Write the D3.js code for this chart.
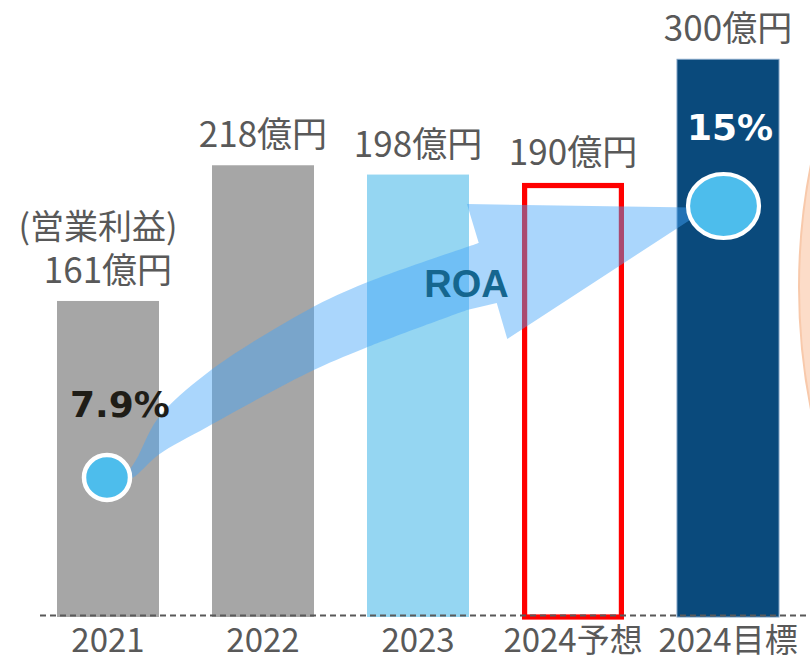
<!DOCTYPE html>
<html>
<head>
<meta charset="utf-8">
<script src="https://cdn.jsdelivr.net/npm/d3@7"></script>
<style>
  body { margin: 0; background: #fff; }
  svg { display: block; }
</style>
</head>
<body>
<script>
// categories and values
const years = ['2021', '2022', '2023', '2024予想', '2024目標'];
const profitLabels = ['161億円', '218億円', '198億円', '190億円', '300億円'];
// bar heights as drawn (億円 on the picture's own scale, not strictly proportional)
const barLevels = [170, 243, 238, 233.5, 300];
const barKinds = ['gray', 'gray', 'light', 'outline', 'dark'];
// ROA points (first and last year)
const roaYears = ['2021', '2024目標'];
const roaValues = [7.9, 15];
const roaLabels = ['7.9%', '15%'];

const width = 810;
const height = 660;
const baseY = 617;

const svg = d3.select('body').append('svg').attr('width', width).attr('height', height);

const x = d3.scaleBand().domain(years).range([26, 810]).paddingInner(0.342).paddingOuter(0.2);
const y = d3.scaleLinear().domain([0, 300]).range([baseY, 59.3]);
const roaY = d3.scaleLinear().domain([7.9, 15]).range([477.5, 206]);

const colors = { gray: '#a6a6a6', light: '#95d6f2', dark: '#0a4a7c', outline: 'none' };

// peach decoration partially visible at the right edge
svg.append('circle')
	.attr('cx', 1427)
	.attr('cy', 287)
	.attr('r', 628)
	.attr('fill', '#fcdcc8')
	.attr('stroke', '#f8c9ab')
	.attr('stroke-width', 2);

// bars
years.forEach((yr, i) => {
	const kind = barKinds[i];
	const bx = x(yr);
	const by = y(barLevels[i]);
	if (kind === 'outline') {
		svg.append('rect')
			.attr('x', bx + 2.6)
			.attr('y', by + 2.6)
			.attr('width', x.bandwidth() - 5.2)
			.attr('height', baseY - by - 2.6)
			.attr('fill', 'none')
			.attr('stroke', '#ff0000')
			.attr('stroke-width', 5.2);
	} else {
		svg.append('rect')
			.attr('x', bx)
			.attr('y', by)
			.attr('width', x.bandwidth())
			.attr('height', baseY - by)
			.attr('fill', colors[kind])
			.attr('stroke', kind === 'dark' ? '#7c9fc2' : 'none')
			.attr('stroke-width', 1);
	}
});

// dashed base line
svg.append('line')
	.attr('x1', 40)
	.attr('x2', width)
	.attr('y1', 615.5)
	.attr('y2', 615.5)
	.attr('stroke', '#595959')
	.attr('stroke-width', 1.8)
	.attr('stroke-dasharray', '6,4');

// x axis labels
const xAxis = d3.axisBottom(x).tickSize(0).tickPadding(12);
const gx = svg.append('g').attr('transform', `translate(0, ${baseY})`).call(xAxis);
gx.select('.domain').remove();
gx.selectAll('text')
	.attr('fill', '#595959')
	.style('font-family', '"Noto Sans CJK JP", sans-serif')
	.style('font-size', '33px');

// value labels above bars
const labelFont = '"Noto Sans CJK JP", sans-serif';
years.forEach((yr, i) => {
	svg.append('text')
		.attr('x', x(yr) + x.bandwidth() / 2)
		.attr('y', y(barLevels[i]) - 18)
		.attr('text-anchor', 'middle')
		.attr('fill', '#595959')
		.style('font-family', labelFont)
		.style('font-size', '35px')
		.text(profitLabels[i]);
});
svg.append('text')
	.attr('x', x(years[0]) + x.bandwidth() / 2 - 10)
	.attr('y', y(barLevels[0]) - 62)
	.attr('text-anchor', 'middle')
	.attr('fill', '#595959')
	.style('font-family', labelFont)
	.style('font-size', '34px')
	.text('(営業利益)');

// ROA arrow, shape given relative to the two ROA points (u along x, v along y)
const p0 = [x(roaYears[0]) + x.bandwidth() / 2, roaY(roaValues[0])];
const p1 = [x(roaYears[1]) + x.bandwidth() / 2, roaY(roaValues[1])];
const toPx = ([u, v]) => [p0[0] + u * (p1[0] - p0[0]), p0[1] + v * (p1[1] - p0[1])];

const arrowUpper = [[0.012, -0.017], [0.039, 0.042], [0.081, 0.219], [0.16, 0.385], [0.322, 0.617], [0.415, 0.716], [0.579, 0.849], [0.598, 0.864]];
const arrowHead = [[0.579, 1.007], [0.969, 0.994], [0.644, 0.51], [0.627, 0.643]];
const arrowLower = [[0.579, 0.617], [0.415, 0.477], [0.322, 0.385], [0.16, 0.186], [0.081, 0.083], [0.039, -0.002], [0.012, -0.017]];

const curve = d3.line().curve(d3.curveCatmullRom.alpha(0.5));
const upperPath = curve(arrowUpper.map(toPx));
const headPath = arrowHead.map(toPx).map((p) => `L${p[0]},${p[1]}`).join('');
const lowerPath = curve(arrowLower.map(toPx)).replace(/^M/, 'L');

svg.append('path')
	.attr('d', upperPath + headPath + lowerPath + 'Z')
	.attr('fill', 'rgb(67,164,249)')
	.attr('fill-opacity', 0.45);

// ROA markers
svg.append('ellipse')
	.attr('cx', p0[0] - 1)
	.attr('cy', p0[1])
	.attr('rx', 23)
	.attr('ry', 22.5)
	.attr('fill', '#4dbdec')
	.attr('stroke', '#fff')
	.attr('stroke-width', 4.5);
svg.append('ellipse')
	.attr('cx', p1[0] - 4.5)
	.attr('cy', p1[1])
	.attr('rx', 35.5)
	.attr('ry', 32)
	.attr('fill', '#4dbdec')
	.attr('stroke', '#fff')
	.attr('stroke-width', 4.2);

// ROA texts
svg.append('text')
	.attr('x', p0[0] + 12)
	.attr('y', 416.5)
	.attr('text-anchor', 'middle')
	.attr('fill', '#1f1d17')
	.style('font-family', '"DejaVu Sans", sans-serif')
	.style('font-weight', 'bold')
	.style('font-size', '36px')
	.text(roaLabels[0]);
svg.append('text')
	.attr('x', p1[0] + 2)
	.attr('y', 140)
	.attr('text-anchor', 'middle')
	.attr('fill', '#ffffff')
	.style('font-family', '"DejaVu Sans", sans-serif')
	.style('font-weight', 'bold')
	.style('font-size', '36px')
	.text(roaLabels[1]);
svg.append('text')
	.attr('x', 466.5)
	.attr('y', 297)
	.attr('text-anchor', 'middle')
	.attr('fill', '#15668f')
	.style('font-family', '"Liberation Sans", Arial, sans-serif')
	.style('font-weight', 'bold')
	.style('font-size', '38px')
	.text('ROA');
</script>
</body>
</html>
